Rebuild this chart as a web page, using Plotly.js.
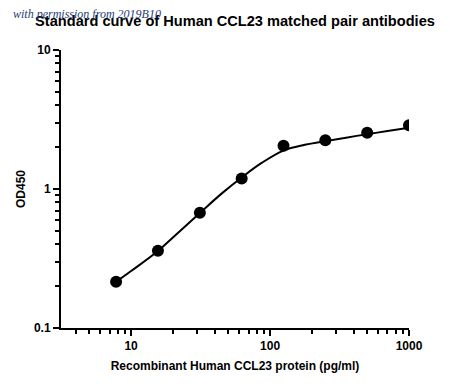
<!DOCTYPE html>
<html>
<head>
<meta charset="utf-8">
<script src="https://cdn.plot.ly/plotly-3.0.1.min.js"></script>
<style>
html,body{margin:0;padding:0;background:#fff;}
#chart{width:450px;height:387px;}
</style>
</head>
<body>
<div id="chart"></div>
<script>
// Standard points
const concentration = [7.8, 15.6, 31.25, 62.5, 125, 250, 500, 1000];
const od450 = [0.215, 0.36, 0.675, 1.19, 2.05, 2.24, 2.54, 2.87];

// Fitted curve
const curveX = [7.8, 10, 15.6, 20, 31.25, 45, 62.5, 87, 125, 178, 250, 352, 500, 700, 1000];
const curveY = [0.215, 0.257, 0.358, 0.448, 0.672, 0.93, 1.21, 1.54, 1.89, 2.08, 2.21, 2.34, 2.48, 2.61, 2.76];

const xTickVals = [10, 100, 1000];
const xTickText = ['10', '100', '1000'];
const yTickVals = [0.1, 1, 10];
const yTickText = ['0.1', '1', '10'];

const titleText = 'Standard curve of Human CCL23 matched pair antibodies';
const xTitle = 'Recombinant Human CCL23 protein (pg/ml)';
const yTitle = 'OD450';
const watermark = 'with permission from 2019B10';

const fontFam = 'Liberation Sans, Arial, sans-serif';

const traces = [
  {
    x: curveX, y: curveY, type: 'scatter', mode: 'lines',
    line: {color: '#000', width: 2, shape: 'spline', smoothing: 1.1},
    hoverinfo: 'skip', showlegend: false
  },
  {
    x: concentration, y: od450, type: 'scatter', mode: 'markers',
    marker: {color: '#000', size: 12},
    showlegend: false
  }
];

const axisCommon = {
  type: 'log',
  showline: true, linecolor: '#000', linewidth: 2,
  showgrid: false, zeroline: false,
  ticks: 'outside', ticklen: 6, tickwidth: 2, tickcolor: '#000',
  tickfont: {family: fontFam, size: 12, color: '#000', weight: 'bold'},
  tickmode: 'array',
  minor: {ticks: 'outside', ticklen: 4, tickwidth: 2, tickcolor: '#000', dtick: 'D1', showgrid: false}
};

const layout = {
  width: 450, height: 387,
  margin: {l: 61, r: 41, t: 50, b: 59},
  paper_bgcolor: '#fff', plot_bgcolor: '#fff',
  showlegend: false,
  title: {
    text: titleText,
    font: {family: fontFam, size: 14.6, color: '#000', weight: 'bold'},
    x: 0.5, xref: 'paper', xanchor: 'center',
    y: 0.945, yref: 'container', yanchor: 'middle'
  },
  xaxis: Object.assign({}, axisCommon, {
    range: [Math.log10(3.13), 3],
    tickvals: xTickVals, ticktext: xTickText,
    title: {text: xTitle, font: {family: fontFam, size: 12, color: '#000', weight: 'bold'}, standoff: 9}
  }),
  yaxis: Object.assign({}, axisCommon, {
    range: [-1, 1],
    tickvals: yTickVals, ticktext: yTickText,
    title: {text: yTitle, font: {family: fontFam, size: 12, color: '#000', weight: 'bold'}, standoff: 6}
  }),
  annotations: [{
    text: watermark,
    xref: 'paper', yref: 'paper',
    x: -0.145, y: 1.13, xanchor: 'left', yanchor: 'middle',
    showarrow: false,
    font: {family: 'Liberation Serif, DejaVu Serif, serif', size: 12, color: '#1f3c78', style: 'italic'}
  }]
};

Plotly.newPlot('chart', traces, layout, {displayModeBar: false, staticPlot: true});
</script>
</body>
</html>
